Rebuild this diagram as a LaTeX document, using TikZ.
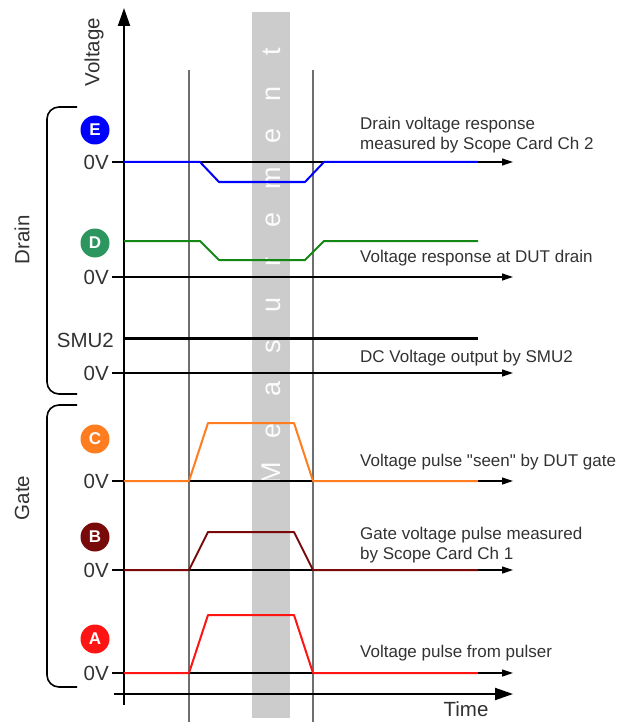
\documentclass[tikz,border=0pt]{standalone}
\usepackage{fontspec}
\setmainfont{Liberation Sans}[Ligatures=TeXOff]
\usetikzlibrary{arrows.meta,positioning}
\definecolor{cBlue}{RGB}{0,0,255}
\definecolor{cGreen}{RGB}{20,135,20}
\definecolor{cTeal}{RGB}{45,150,95}
\definecolor{cOrange}{RGB}{255,125,30}
\definecolor{cMaroon}{RGB}{120,10,10}
\definecolor{cRed}{RGB}{255,20,20}
\definecolor{cBar}{RGB}{204,204,204}
\definecolor{cWin}{RGB}{110,110,110}
\definecolor{cText}{RGB}{50,50,50}
\tikzset{
  txt/.style={font=\fontsize{17}{20}\selectfont,text=cText,inner sep=0pt},
  bigtxt/.style={txt,font=\fontsize{20.5}{24}\selectfont},
  sidelabel/.style={txt,anchor=west,align=left},
  zerolabel/.style={bigtxt,anchor=east},
  chancirc/.style={circle,minimum size=29pt,inner sep=0pt,text=white,
                   font=\fontsize{17}{17}\selectfont\bfseries},
  zeroaxis/.style={-{Triangle[length=11pt,width=7pt]},line width=1.2pt,black},
  mainaxis/.style={-{Triangle[length=18pt,width=12pt]},line width=2pt,black},
  sigline/.style={line width=2pt,line join=round},
  winline/.style={line width=1.5pt,cWin},
  bracket/.style={line width=1.6pt,black,rounded corners=12pt}
}
\begin{document}
\begin{tikzpicture}[x=1pt,y=-1pt]
  \useasboundingbox (0,0) rectangle (620,722);
  % measurement window
  \fill[cBar] (252,12) rectangle (290,718);
  \foreach \ch [count=\i from 0] in {M,e,a,s,u,r,e,m,e,n,t}
    \node[inner sep=0pt,text=white!95!cBar,font=\fontsize{27}{27}\selectfont,
          rotate=90,anchor=base] (let\i) at (280,{473-42.1*\i}) {\ch};
  \draw[winline] (189,70) -- (189,722);
  \draw[winline] (313,70) -- (313,722);
  % axes
  \coordinate (vBot) at (124,705);
  \coordinate (vTop) at (124,8);
  \coordinate (tLeft) at (114,694);
  \coordinate (tRight) at (513,694);
  \draw[mainaxis] (vBot) -- (vTop);
  \draw[mainaxis] (tLeft) -- (tRight);
  \foreach \y in {162,277,373,481,570,673}{
    \draw[zeroaxis] (112,\y) -- (513,\y);
    \node[zerolabel] at (109,\y) {0V};
  }
  % gate signals
  \foreach \nm/\base/\top/\cy/\col in {A/673/615/639/cRed,B/570/532/537/cMaroon,C/481/423/439/cOrange}{
    \draw[sigline,\col] (124,\base) -- (189,\base) -- (208,\top) -- (294,\top) -- (313,\base) -- (478,\base);
    \node[chancirc,fill=\col] (circ\nm) at (95,\cy) {\nm};
  }
  % drain signals
  \draw[sigline,cBlue] (124,162) -- (200,162) -- (219,182) -- (305,182) -- (324,162) -- (478,162);
  \node[chancirc,fill=cBlue] (circE) at (95,130) {E};
  \draw[sigline,cGreen] (124,241) -- (200,241) -- (219,260) -- (305,260) -- (324,241) -- (478,241);
  \node[chancirc,fill=cTeal] (circD) at (95,243) {D};
  \draw[line width=3pt] (124,338) -- (478,338);
  \node[zerolabel] (smu) at (114,340) {SMU2};
  % labels
  \node[sidelabel] (lblE) at (360,135) {Drain voltage response\\measured by Scope Card Ch 2};
  \node[sidelabel] (lblD) at (360,258) {Voltage response at DUT drain};
  \node[sidelabel] (lblS) at (360,358) {DC Voltage output by SMU2};
  \node[sidelabel] (lblC) at (360,462) {Voltage pulse "seen" by DUT gate};
  \node[sidelabel] (lblB) at (360,545) {Gate voltage pulse measured\\by Scope Card Ch 1};
  \node[sidelabel] (lblA) at (360,653) {Voltage pulse from pulser};
  \node[bigtxt] (tlbl) at (466,709) {Time};
  \node[bigtxt,rotate=90] (vlbl) at (94,52) {Voltage};
  \node[bigtxt,rotate=90] (drainlbl) at (22,240) {Drain};
  \node[bigtxt,rotate=90] (gatelbl) at (22,498) {Gate};
  \draw[bracket] (77,107) -- (47,107) -- (47,394) -- (77,394);
  \draw[bracket] (77,405) -- (47,405) -- (47,687) -- (77,687);
\end{tikzpicture}
\end{document}
